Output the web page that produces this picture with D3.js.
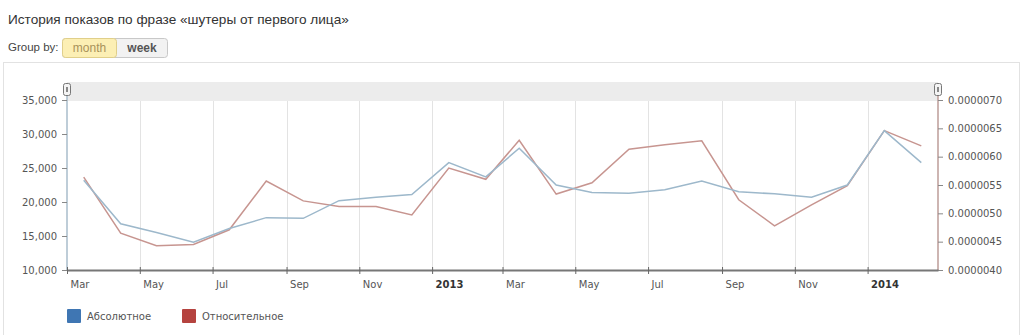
<!DOCTYPE html>
<html><head><meta charset="utf-8">
<script src="https://cdn.jsdelivr.net/npm/d3@7"></script>
<style>
body{margin:0;background:#fff;font-family:"DejaVu Sans",Verdana,sans-serif;}
svg{display:block}
</style></head>
<body>
<svg id="c" width="1024" height="335"></svg>
<script>
const months = ["2012-03-15","2012-04-15","2012-05-15","2012-06-15","2012-07-15","2012-08-15","2012-09-15","2012-10-15","2012-11-15","2012-12-15",
"2013-01-15","2013-02-15","2013-03-15","2013-04-15","2013-05-15","2013-06-15","2013-07-15","2013-08-15","2013-09-15","2013-10-15","2013-11-15","2013-12-15",
"2014-01-15","2014-02-15"];
const absolute = [23200,16800,15500,14100,16100,17700,17600,20200,20700,21100,25800,23700,27900,22500,21400,21300,21800,23100,21500,21200,20700,22500,30500,25800];
const relative = [5.64e-6,4.65e-6,4.43e-6,4.45e-6,4.71e-6,5.57e-6,5.22e-6,5.12e-6,5.12e-6,4.97e-6,5.80e-6,5.60e-6,6.29e-6,5.34e-6,5.54e-6,6.13e-6,6.21e-6,6.28e-6,5.24e-6,4.78e-6,5.15e-6,5.49e-6,6.46e-6,6.19e-6];
const leftTicks = [10000,15000,20000,25000,30000,35000];
const rightTicks = [4.0e-6,4.5e-6,5.0e-6,5.5e-6,6.0e-6,6.5e-6,7.0e-6];
const xTicks = ["2012-03-01","2012-05-01","2012-07-01","2012-09-01","2012-11-01","2013-01-01","2013-03-01","2013-05-01","2013-07-01","2013-09-01","2013-11-01","2014-01-01"];
const monthNames = ["Jan","Feb","Mar","Apr","May","Jun","Jul","Aug","Sep","Oct","Nov","Dec"];
const seriesNames = ["Абсолютное","Относительное"];
const title = "История показов по фразе «шутеры от первого лица»";

const parse = d3.utcParse("%Y-%m-%d");
const svg = d3.select("#c");
const L = 67, R = 938, T = 101, B = 270;

const x = d3.scaleUtc().domain([parse("2012-03-01"), parse("2014-03-01")]).range([L, R]);
const yL = d3.scaleLinear().domain([10000,35000]).range([B, T-1]);
const yR = d3.scaleLinear().domain([4e-6,7e-6]).range([B, T-1]);

// title
svg.append("text").attr("x",8).attr("y",24).attr("font-family","'Liberation Sans',Arial,sans-serif")
  .attr("font-size",13.6).attr("fill","#333").text(title);
svg.append("text").attr("x",8).attr("y",51).attr("font-family","'Liberation Sans',Arial,sans-serif")
  .attr("font-size",11.5).attr("fill","#444").text("Group by:");
// buttons
const btn = svg.append("g");
btn.append("rect").attr("x",62.5).attr("y",38.5).attr("width",105).attr("height",19).attr("rx",3)
  .attr("fill","#f2f2f2").attr("stroke","#c8c8c8");
btn.append("rect").attr("x",62.5).attr("y",38.5).attr("width",54).attr("height",19).attr("rx",3)
  .attr("fill","#fcefb4").attr("stroke","#e0cf8a");
btn.append("text").attr("x",89.5).attr("y",51.5).attr("text-anchor","middle").attr("font-family","'Liberation Sans',Arial,sans-serif")
  .attr("font-size",12).attr("fill","#a8925a").text("month");
btn.append("text").attr("x",142).attr("y",51.5).attr("text-anchor","middle").attr("font-family","'Liberation Sans',Arial,sans-serif")
  .attr("font-size",12).attr("font-weight","bold").attr("fill","#555").text("week");

// panel
svg.append("rect").attr("x",3.5).attr("y",62.5).attr("width",1016).attr("height",300)
  .attr("fill","none").attr("stroke","#e2e2e2");

// gray band
svg.append("rect").attr("x",L).attr("y",82).attr("width",R-L).attr("height",T-82).attr("fill","#ececec");

// grid lines
const xt = xTicks.map(parse);
svg.append("g").selectAll("line").data(xt.slice(1)).join("line")
  .attr("x1",d=>Math.round(x(d))+0.5).attr("x2",d=>Math.round(x(d))+0.5)
  .attr("y1",T).attr("y2",B).attr("stroke","#e3e3e3").attr("stroke-width",1);

// left axis
const gl = svg.append("g").attr("transform",`translate(${L},0)`)
  .call(d3.axisLeft(yL).tickValues(leftTicks).tickFormat(d3.format(",")).tickSize(5).tickPadding(5));
gl.select(".domain").attr("stroke","#a9bccb").attr("stroke-width",1.5).attr("d",`M0,${T-12}V${B}`);
gl.selectAll(".tick line").attr("stroke","#888");
gl.selectAll("text").attr("font-family","'DejaVu Sans',Verdana,sans-serif").attr("font-size",10).attr("fill","#555");

// right axis
const gr = svg.append("g").attr("transform",`translate(${R},0)`)
  .call(d3.axisRight(yR).tickValues(rightTicks).tickFormat(d3.format(".7f")).tickSize(5).tickPadding(5));
gr.select(".domain").attr("stroke","#bc9d98").attr("stroke-width",1.5).attr("d",`M0,${T-12}V${B}`);
gr.selectAll(".tick line").attr("stroke","#888");
gr.selectAll("text").attr("font-family","'DejaVu Sans',Verdana,sans-serif").attr("font-size",10).attr("fill","#555");

// bottom axis
const gb = svg.append("g").attr("transform",`translate(0,${B})`)
  .call(d3.axisBottom(x).tickValues(xt).tickFormat(d=>d.getUTCMonth()===0? d.getUTCFullYear(): monthNames[d.getUTCMonth()]).tickSizeInner(4).tickSizeOuter(0).tickPadding(7));
gb.select(".domain").attr("stroke","#777").attr("stroke-width",2);
gb.selectAll(".tick line").attr("stroke","#666").attr("y1",-3).attr("y2",4);
gb.selectAll("text").attr("font-family","'DejaVu Sans',Verdana,sans-serif").attr("font-size",10)
  .attr("text-anchor","start").attr("x",3)
  .attr("font-weight",d=>d.getUTCMonth()===0?"bold":"normal").attr("fill",d=>d.getUTCMonth()===0?"#333":"#555");

// handles
[L,R].forEach(hx=>{
  svg.append("rect").attr("x",hx-3.5).attr("y",83.5).attr("width",7).attr("height",12).attr("rx",2)
    .attr("fill","#f4f4f4").attr("stroke","#777");
  svg.append("rect").attr("x",hx-1).attr("y",87).attr("width",2).attr("height",5).attr("fill","#888");
});

// lines
const dates = months.map(parse);
const lineL = d3.line().x((d,i)=>x(dates[i])).y(d=>yL(d));
const lineR = d3.line().x((d,i)=>x(dates[i])).y(d=>yR(d));
svg.append("path").datum(relative).attr("d",lineR).attr("fill","none").attr("stroke","#c79590").attr("stroke-width",1.5);
svg.append("path").datum(absolute).attr("d",lineL).attr("fill","none").attr("stroke","#9db8cb").attr("stroke-width",1.5);

// legend
const colors = ["#3f76b3","#b5433f"];
const lx = [67,182];
seriesNames.forEach((n,i)=>{
  svg.append("rect").attr("x",lx[i]).attr("y",309).attr("width",14).attr("height",14).attr("fill",colors[i]).attr("rx",1);
  svg.append("text").attr("x",lx[i]+20).attr("y",320).attr("font-family","'DejaVu Sans',Verdana,sans-serif")
    .attr("font-size",10).attr("fill","#555").text(n);
});
</script>
</body></html>
